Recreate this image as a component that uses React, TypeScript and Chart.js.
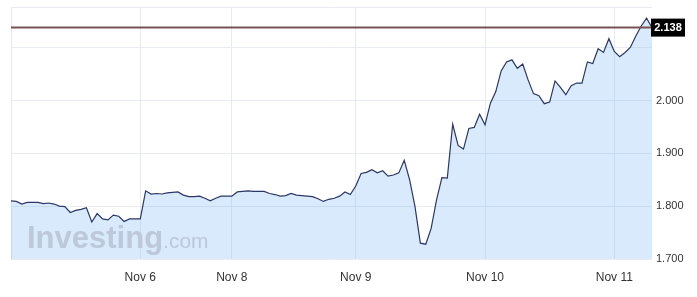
import React, { useEffect, useRef } from "react";
import { Chart, registerables } from "chart.js";

Chart.register(...registerables);

const prices: number[] = [
  1.810, 1.809, 1.804, 1.807, 1.807, 1.807, 1.805, 1.806, 1.804, 1.800,
  1.799, 1.788, 1.792, 1.794, 1.797, 1.770, 1.786, 1.776, 1.774, 1.783,
  1.781, 1.771, 1.776, 1.776, 1.776, 1.829, 1.823, 1.824, 1.823, 1.825,
  1.826, 1.827, 1.821, 1.818, 1.818, 1.819, 1.815, 1.810, 1.815, 1.819,
  1.819, 1.819, 1.827, 1.828, 1.829, 1.828, 1.828, 1.828, 1.824, 1.822,
  1.819, 1.820, 1.824, 1.821, 1.820, 1.819, 1.818, 1.814, 1.809, 1.813,
  1.815, 1.819, 1.827, 1.822, 1.838, 1.862, 1.864, 1.869, 1.863, 1.867,
  1.857, 1.859, 1.863, 1.887, 1.850, 1.799, 1.730, 1.728, 1.758, 1.812,
  1.854, 1.853, 1.955, 1.915, 1.908, 1.947, 1.949, 1.974, 1.954, 1.995,
  2.017, 2.056, 2.073, 2.077, 2.061, 2.069, 2.039, 2.013, 2.009, 1.994,
  1.997, 2.037, 2.025, 2.011, 2.028, 2.033, 2.033, 2.073, 2.070, 2.098,
  2.091, 2.117, 2.093, 2.083, 2.091, 2.101, 2.122, 2.141, 2.156, 2.138,
];

const xTickIndices: number[] = [24, 41, 64, 88, 112];
const xTickLabels: string[] = ["Nov 6", "Nov 8", "Nov 9", "Nov 10", "Nov 11"];
const yTickValues: number[] = [1.7, 1.8, 1.9, 2.0, 2.1];
const yTickLabels: string[] = ["1.700", "1.800", "1.900", "2.000", ""];
const lastPrice = 2.138;
const lastPriceLabel = "2.138";
const yMin = 1.7;
const yMax = 2.177;

const W = 697;
const H = 297;

const overlayPlugin = {
  id: "overlay",
  beforeDatasetsDraw(chart: any) {
    const { ctx, chartArea } = chart;
    ctx.save();
    ctx.strokeStyle = "#e6e9ef";
    ctx.lineWidth = 1;
    ctx.beginPath();
    ctx.moveTo(chartArea.left + 0.5, chartArea.bottom);
    ctx.lineTo(chartArea.left + 0.5, chartArea.top + 0.5);
    ctx.lineTo(chartArea.right, chartArea.top + 0.5);
    ctx.stroke();
    ctx.restore();
  },
  afterDatasetsDraw(chart: any) {
    const { ctx, chartArea, scales } = chart;
    ctx.save();
    ctx.fillStyle = "#bdc9da";
    ctx.textBaseline = "alphabetic";
    ctx.textAlign = "left";
    ctx.font = "bold 31px Arial, 'Liberation Sans', sans-serif";
    const wx = chartArea.left + 16;
    const wy = 248;
    ctx.fillText("Investing", wx, wy);
    const w1 = ctx.measureText("Investing").width;
    ctx.font = "21px Arial, 'Liberation Sans', sans-serif";
    ctx.fillText(".com", wx + w1, wy);

    const py = scales.y.getPixelForValue(lastPrice);
    ctx.strokeStyle = "#785252";
    ctx.lineWidth = 2;
    ctx.beginPath();
    ctx.moveTo(chartArea.left, py);
    ctx.lineTo(chartArea.right, py);
    ctx.stroke();
    ctx.restore();
  },
  afterDraw(chart: any) {
    const { ctx, chartArea, scales } = chart;
    const py = scales.y.getPixelForValue(lastPrice);
    ctx.save();
    ctx.fillStyle = "#000000";
    ctx.fillRect(chartArea.right - 1, py - 9, 34, 18);
    ctx.fillStyle = "#ffffff";
    ctx.font = "bold 11px Arial, 'Liberation Sans', sans-serif";
    ctx.textAlign = "center";
    ctx.textBaseline = "middle";
    ctx.fillText(lastPriceLabel, chartArea.right + 16, py + 0.5);
    ctx.restore();
  },
};

export default function App() {
  const ref = useRef<HTMLCanvasElement | null>(null);

  useEffect(() => {
    if (!ref.current) return;
    const data = prices.map((v, i) => ({ x: i, y: v }));
    const chart = new Chart(ref.current, {
      type: "line",
      data: {
        datasets: [
          {
            data,
            borderColor: "#2b3766",
            borderWidth: 1.2,
            backgroundColor: "rgba(100,170,245,0.25)",
            fill: "start",
            pointRadius: 0,
            tension: 0,
          },
        ],
      },
      options: {
        animation: false,
        responsive: false,
        devicePixelRatio: 1,
        layout: {
          autoPadding: false,
          padding: { left: 11, top: 7, right: 0, bottom: 0 },
        },
        plugins: {
          legend: { display: false },
          tooltip: { enabled: false },
        },
        scales: {
          x: {
            type: "linear",
            min: 0,
            max: prices.length - 1,
            afterBuildTicks: (scale: any) => {
              scale.ticks = xTickIndices.map((v) => ({ value: v }));
            },
            afterFit: (scale: any) => {
              scale.height = H - 259;
              scale.paddingLeft = 0;
              scale.paddingRight = 0;
            },
            border: { display: false },
            grid: { color: "#e8ebf0", lineWidth: 1, drawTicks: false },
            ticks: {
              autoSkip: false,
              maxRotation: 0,
              padding: 11,
              color: "#333333",
              font: { family: "Arial, 'Liberation Sans', sans-serif", size: 12 },
              callback: (v: any) => {
                const k = xTickIndices.indexOf(Number(v));
                return k >= 0 ? xTickLabels[k] : "";
              },
            },
          },
          y: {
            position: "right",
            min: yMin,
            max: yMax,
            afterBuildTicks: (scale: any) => {
              scale.ticks = yTickValues.map((v) => ({ value: v }));
            },
            afterFit: (scale: any) => {
              scale.width = W - 652;
              scale.paddingTop = 0;
              scale.paddingBottom = 0;
            },
            border: { display: false },
            grid: { color: "#e8ebf0", lineWidth: 1, drawTicks: false },
            ticks: {
              padding: 4,
              color: "#333333",
              font: { family: "Arial, 'Liberation Sans', sans-serif", size: 11 },
              callback: (v: any) => {
                const k = yTickValues.findIndex((t) => Math.abs(t - Number(v)) < 1e-9);
                return k >= 0 ? yTickLabels[k] : "";
              },
            },
          },
        },
      },
      plugins: [overlayPlugin],
    });
    return () => chart.destroy();
  }, []);

  return (
    <div style={{ position: "fixed", left: 0, top: 0, width: W, height: H, background: "#ffffff" }}>
      <canvas ref={ref} width={W} height={H} style={{ display: "block", width: W, height: H }} />
    </div>
  );
}
